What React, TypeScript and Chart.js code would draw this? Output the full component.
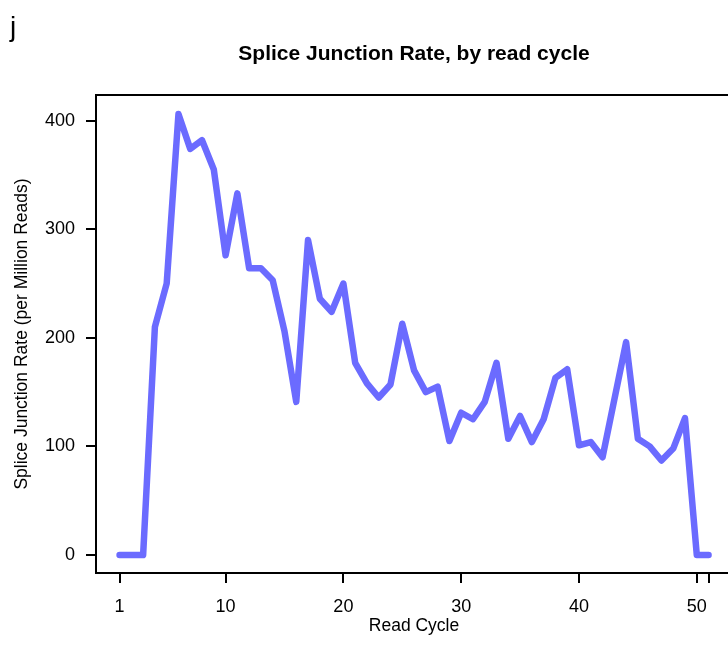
import React, { useEffect, useRef } from "react";
import { Chart, registerables } from "chart.js";

Chart.register(...registerables);

const cycles = [
  1, 2, 3, 4, 5, 6, 7, 8, 9, 10, 11, 12, 13, 14, 15, 16, 17, 18, 19, 20, 21, 22, 23, 24, 25, 26,
  27, 28, 29, 30, 31, 32, 33, 34, 35, 36, 37, 38, 39, 40, 41, 42, 43, 44, 45, 46, 47, 48, 49, 50, 51,
];
const junctionRate = [
  0, 0, 0, 210, 250, 406, 374, 382, 355, 276, 333, 264, 264, 253, 206, 141, 290, 236, 224, 250,
  177, 158, 145, 157, 213, 170, 150, 155, 105, 131, 125, 141, 177, 107, 128, 104, 125, 163, 171,
  101, 104, 90, 143, 196, 107, 100, 87, 98, 126, 0, 0,
];
const xTickValues = [1, 10, 20, 30, 40, 50, 51];
const xTickLabels = ["1", "10", "20", "30", "40", "50", ""];
const yTickValues = [0, 100, 200, 300, 400];

const TITLE = "Splice Junction Rate, by read cycle";
const X_TITLE = "Read Cycle";
const Y_TITLE = "Splice Junction Rate (per Million Reads)";
const PANEL = "j";

const FONT = "'Liberation Sans', Arial, Helvetica, sans-serif";

export default function App() {
  const ref = useRef<HTMLCanvasElement | null>(null);

  useEffect(() => {
    document.body.style.margin = "0";
    const canvas = ref.current;
    if (!canvas) return;

    const textPlugin = {
      id: "rtext",
      afterDraw(chart: any) {
        const { ctx, chartArea } = chart;
        ctx.save();
        ctx.strokeStyle = "#000";
        ctx.lineWidth = 2;
        ctx.beginPath();
        ctx.moveTo(chartArea.left, chartArea.top);
        ctx.lineTo(chartArea.right + 10, chartArea.top);
        ctx.stroke();

        const cx = 414;
        ctx.fillStyle = "#000";
        ctx.textAlign = "center";
        ctx.textBaseline = "alphabetic";
        ctx.font = `bold 21px ${FONT}`;
        ctx.fillText(TITLE, cx, 60);

        ctx.font = `17.5px ${FONT}`;
        ctx.fillText(X_TITLE, cx, 631);

        ctx.save();
        ctx.textBaseline = "middle";
        ctx.translate(22, (chartArea.top + chartArea.bottom) / 2);
        ctx.rotate(-Math.PI / 2);
        ctx.fillText(Y_TITLE, 0, 0);
        ctx.restore();

        ctx.textAlign = "left";
        ctx.textBaseline = "alphabetic";
        ctx.font = `28px ${FONT}`;
        ctx.fillText(PANEL, 10, 36);
        ctx.restore();
      },
    };

    const chart = new Chart(canvas, {
      type: "line",
      data: {
        datasets: [
          {
            data: cycles.map((c, i) => ({ x: c, y: junctionRate[i] })),
            borderColor: "#6B6BFF",
            borderWidth: 6.5,
            pointRadius: 0,
            borderJoinStyle: "round",
            borderCapStyle: "round",
            tension: 0,
            fill: false,
          },
        ],
      },
      options: {
        animation: false,
        responsive: false,
        events: [],
        layout: { padding: { top: 95, left: 0, right: 0, bottom: 0 } },
        plugins: {
          legend: { display: false },
          tooltip: { enabled: false },
          title: { display: false },
        },
        scales: {
          x: {
            type: "linear",
            min: -1,
            max: 52.65,
            afterFit: (s: any) => {
              s.height = 84;
            },
            afterBuildTicks: (s: any) => {
              s.ticks = xTickValues.map((v) => ({ value: v }));
            },
            grid: {
              display: true,
              drawOnChartArea: false,
              drawTicks: true,
              tickLength: 10,
              color: "#000",
              lineWidth: 2,
            },
            border: { display: true, color: "#000", width: 2 },
            ticks: {
              autoSkip: false,
              maxRotation: 0,
              padding: 13,
              color: "#000",
              font: { family: FONT, size: 18 },
              callback: (v: any) => {
                const idx = xTickValues.indexOf(Number(v));
                return idx >= 0 ? xTickLabels[idx] : "";
              },
            },
          },
          y: {
            type: "linear",
            min: -16.6,
            max: 423.6,
            afterFit: (s: any) => {
              s.width = 96;
            },
            afterBuildTicks: (s: any) => {
              s.ticks = yTickValues.map((v) => ({ value: v }));
            },
            grid: {
              display: true,
              drawOnChartArea: false,
              drawTicks: true,
              tickLength: 10,
              color: "#000",
              lineWidth: 2,
            },
            border: { display: true, color: "#000", width: 2 },
            ticks: {
              padding: 11,
              color: "#000",
              font: { family: FONT, size: 18 },
              callback: (v: any) => String(v),
            },
          },
        },
      },
      plugins: [textPlugin],
    } as any);

    return () => chart.destroy();
  }, []);

  return (
    <div style={{ width: 728, height: 657, position: "relative", background: "#fff" }}>
      <canvas ref={ref} width={728} height={657} style={{ display: "block" }} />
    </div>
  );
}
